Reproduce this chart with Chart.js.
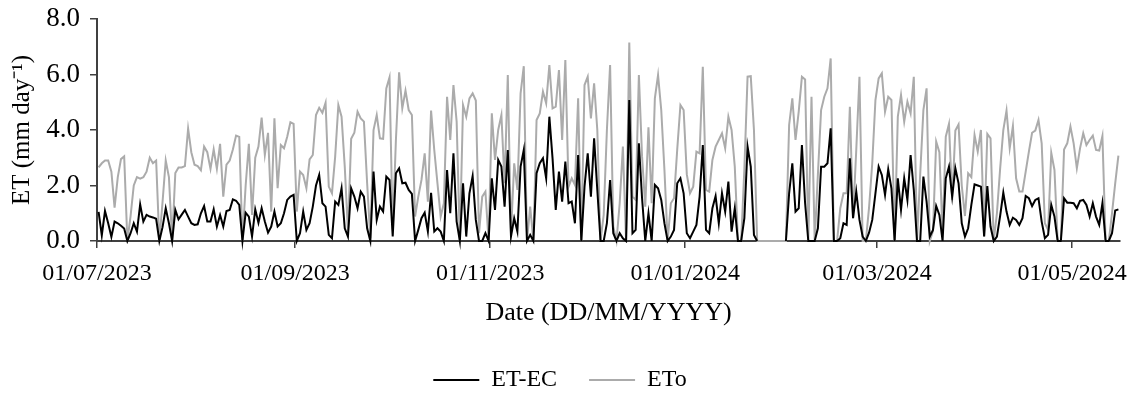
<!DOCTYPE html>
<html>
<head>
<meta charset="utf-8">
<script src="https://cdn.jsdelivr.net/npm/chart.js@4.4.1/dist/chart.umd.min.js"></script>
<style>
  html, body { margin: 0; padding: 0; background: #fff; }
  canvas { display: block; }
</style>
</head>
<body>
<canvas id="etChart" width="1141" height="397"></canvas>
<script>
// daily series, 01/07/2023 .. 15/05/2024 (320 days)
const etEc = [
  1.05, 0.2, 1.08, 0.64, 0.15, 0.7, 0.64, 0.55, 0.45, 0,
  0.28, 0.64, 0.34, 1.32, 0.7, 0.94, 0.88, 0.85, 0.8, 0,
  0.5, 1.18, 0.64, 0, 1.12, 0.78, 0.95, 1.12, 0.88, 0.64,
  0.58, 0.6, 1.0, 1.26, 0.7, 0.7, 1.14, 0.52, 0.94, 0.52,
  1.08, 1.12, 1.5, 1.45, 1.3, 0, 1.02, 0.88, 0.16, 1.14,
  0.66, 1.18, 0.7, 0.3, 0.52, 1.06, 0.52, 0.64, 1.0, 1.48,
  1.6, 1.66, 0, 0.28, 1.06, 0.4, 0.64, 1.24, 2.0, 2.38,
  1.36, 1.24, 0.22, 0.1, 1.42, 1.3, 1.9, 0.46, 0.16, 1.9,
  1.6, 1.18, 1.78, 1.6, 0.46, 0, 2.5, 0.76, 1.24, 1.06,
  2.32, 2.2, 0.16, 2.44, 2.62, 2.08, 2.1, 1.84, 1.7, 0,
  0.4, 0.82, 1.02, 0.34, 1.74, 0.34, 0.46, 0.34, 0, 2.56,
  1.0, 3.16, 0.7, 0, 2.08, 0.16, 1.72, 2.34, 0.76, 0,
  0, 0.28, 0, 2.26, 1.12, 2.92, 2.68, 1.24, 3.28, 0.16,
  0.82, 0.34, 2.68, 3.28, 0, 0.22, 0, 2.44, 2.8, 2.98,
  2.26, 4.48, 2.98, 1.12, 2.5, 1.42, 2.86, 1.36, 1.42, 0.64,
  3.1, 0, 1.96, 3.16, 1.6, 3.7, 1.84, 0, 0, 0.64,
  2.2, 0.28, 0, 0.28, 0.1, 0, 5.08, 0.28, 0.4, 3.52,
  1.54, 0, 1.0, 0, 2.02, 1.9, 1.48, 0.64, 0, 0.16,
  0.4, 2.08, 2.26, 1.72, 0.28, 0.1, 0.34, 0.58, 1.6, 3.46,
  0.4, 0.28, 1.18, 1.62, 0.64, 1.72, 1.06, 2.14, 0.34, 1.18,
  0, 0, 0.82, 3.4, 2.68, 0.22, 0, null, null, null,
  null, null, null, null, null, 0, 1.72, 2.8, 1.06, 1.18,
  3.46, 1.36, 0, 0, 0, 0.46, 2.68, 2.68, 2.8, 4.06,
  0, 0, 0.1, 0.64, 0.58, 2.98, 0.82, 1.78, 0.76, 0.16,
  0, 0.3, 0.76, 1.72, 2.68, 2.38, 1.66, 2.58, 1.9, 0,
  2.26, 1.12, 2.26, 1.48, 3.1, 1.84, 0, 0, 2.32, 1.42,
  0.16, 0.4, 1.26, 0.94, 0, 2.26, 2.68, 1.6, 2.62, 2.08,
  0.64, 0.16, 0.46, 1.3, 2.04, 2.0, 1.96, 0.16, 1.98, 0.52,
  0, 0.16, 0.9, 1.74, 1.06, 0.58, 0.84, 0.76, 0.58, 0.82,
  1.62, 1.54, 1.26, 1.48, 1.54, 0.7, 0.1, 0.22, 1.3, 0.88,
  0, 0, 1.54, 1.38, 1.38, 1.36, 1.18, 1.45, 1.48, 1.3,
  0.88, 1.36, 0.88, 0.58, 1.36, 0, 0, 0.28, 1.1, 1.14
];

const eto = [
  2.65, 2.8, 2.9, 2.9, 2.5, 1.2, 2.3, 2.95, 3.05, 0,
  0.9, 2.0, 2.3, 2.25, 2.3, 2.5, 3.0, 2.8, 2.9, 0,
  1.4, 2.9, 2.3, 0, 2.45, 2.65, 2.65, 2.7, 4.05, 3.2,
  2.75, 2.7, 2.55, 3.4, 3.2, 2.6, 3.3, 2.6, 3.5, 1.6,
  2.75, 2.9, 3.3, 3.8, 3.75, 0, 2.0, 3.5, 0.94, 3.0,
  3.4, 4.45, 3.1, 3.9, 1.06, 4.42, 1.9, 3.46, 3.34, 3.76,
  4.28, 4.22, 1.06, 2.5, 2.38, 1.9, 2.94, 3.1, 4.54, 4.8,
  4.62, 4.98, 1.96, 1.72, 3.04, 4.9, 4.48, 2.68, 0.34, 3.68,
  3.9, 4.66, 4.42, 4.3, 2.08, 0.1, 4.0, 4.54, 3.7, 3.68,
  5.5, 5.9, 0.4, 3.64, 6.08, 4.78, 5.42, 4.72, 4.54, 0.88,
  1.6, 2.2, 3.16, 1.42, 4.7, 3.28, 2.08, 0.88, 1.36, 5.2,
  3.64, 5.62, 4.3, 0, 4.9, 4.48, 5.14, 5.32, 5.06, 0.28,
  1.6, 1.78, 0, 4.6, 2.92, 4.0, 4.54, 2.08, 5.98, 0.28,
  2.8, 1.84, 5.32, 6.3, 0, 1.24, 0, 4.36, 4.6, 5.38,
  4.96, 6.34, 4.78, 4.84, 6.16, 3.64, 6.52, 1.96, 2.26, 2.02,
  5.14, 0, 5.62, 5.92, 4.42, 5.68, 4.0, 0, 0.94, 4.0,
  6.34, 0.52, 0, 1.36, 3.4, 0, 7.15, 1.6, 1.48, 5.98,
  3.04, 1.24, 4.1, 1.36, 5.14, 5.98, 4.72, 2.56, 0, 1.36,
  1.54, 3.3, 4.9, 4.72, 2.4, 1.72, 1.96, 3.22, 3.16, 6.28,
  1.84, 1.78, 2.92, 3.4, 3.64, 3.88, 3.34, 4.48, 4.0, 2.68,
  0, 0, 2.6, 5.92, 5.94, 4.0, 0, 0, 0, 0,
  0, 0, 0, 0, 0, 0, 4.18, 5.14, 3.64, 4.66,
  5.92, 5.82, 0, 5.2, 0, 2.4, 4.72, 5.2, 5.5, 6.58,
  0, 0, 1.18, 1.72, 1.72, 4.84, 0.82, 3.28, 5.92, 0,
  0, 1.2, 2.8, 5.08, 5.86, 6.04, 4.66, 5.2, 5.08, 0,
  4.48, 5.26, 4.3, 5.02, 4.6, 5.92, 0, 2.4, 4.72, 5.5,
  0, 0.36, 3.58, 3.2, 0.25, 3.76, 4.22, 1.48, 3.98, 4.2,
  2.0, 0.9, 2.44, 2.3, 3.82, 3.22, 4.0, 0.16, 3.86, 3.7,
  0, 1.0, 2.6, 4.0, 4.7, 3.34, 4.14, 2.26, 1.78, 1.78,
  2.5, 3.22, 3.9, 3.98, 4.36, 3.52, 0.64, 0.4, 3.18, 2.56,
  0, 0, 3.3, 3.52, 4.12, 3.52, 2.62, 3.34, 3.88, 3.46,
  3.64, 3.8, 3.28, 3.26, 3.78, 0, 0, 1.0, 2.08, 3.08
];

// date axis: day offsets of the labelled ticks (from 01/07/2023)
const tickDays = [0, 62, 123, 184, 244, 305];
const tickLabels = ['01/07/2023', '01/09/2023', '01/11/2023', '01/01/2024', '01/03/2024', '01/05/2024'];
const totalDays = 320;

const FONT = "'Liberation Serif', 'Times New Roman', serif";
const AXIS = '#404040';

// each day sits in the middle of its slot, like Excel's date axis
const toPoints = arr => arr.map((v, i) => ({ x: i + 0.5, y: v }));

new Chart(document.getElementById('etChart'), {
  type: 'line',
  data: {
    datasets: [
      {
        label: 'ET-EC',
        data: toPoints(etEc),
        borderColor: '#000000',
        borderWidth: 2,
        pointRadius: 0,
        pointStyle: 'line',
        tension: 0,
        spanGaps: false,
        clip: false
      },
      {
        label: 'ETo',
        data: toPoints(eto),
        borderColor: '#ABABAB',
        borderWidth: 2,
        pointRadius: 0,
        pointStyle: 'line',
        tension: 0,
        clip: false
      }
    ]
  },
  options: {
    responsive: false,
    animation: false,
    layout: { padding: { left: 0, right: 21, top: 19, bottom: 0 } },
    scales: {
      x: {
        type: 'linear',
        min: 0,
        max: totalDays,
        afterBuildTicks: scale => { scale.ticks = tickDays.map(v => ({ value: v })); },
        afterFit: scale => { scale.height = 95; },
        ticks: {
          autoSkip: false,
          maxRotation: 0,
          padding: 11,
          color: '#000',
          font: { family: FONT, size: 24 },
          callback: v => tickLabels[tickDays.indexOf(v)]
        },
        grid: { drawOnChartArea: false, tickLength: 7, color: AXIS, lineWidth: 1.5, z: -1 },
        border: { color: AXIS, width: 2 },
        title: {
          display: true,
          text: 'Date (DD/MM/YYYY)',
          color: '#000',
          font: { family: FONT, size: 26 },
          padding: { top: 0, bottom: 7 }
        }
      },
      y: {
        min: 0,
        max: 8,
        // fixed width, and no extra top/bottom room for the end labels
        afterFit: scale => { scale.width = 97; scale.paddingTop = 0; scale.paddingBottom = 0; },
        ticks: {
          stepSize: 2,
          padding: 10,
          color: '#000',
          font: { family: FONT, size: 27 },
          callback: v => v.toFixed(1)
        },
        grid: { drawOnChartArea: false, tickLength: 7, color: AXIS, lineWidth: 1.5, z: -1 },
        border: { color: AXIS, width: 2 },
        title: {
          display: true,
          text: 'ET (mm day\u207B\u00B9)',
          color: '#000',
          font: { family: FONT, size: 25 },
          padding: { top: 7, bottom: 0 }
        }
      }
    },
    plugins: {
      legend: {
        position: 'bottom',
        maxHeight: 61,
        labels: {
          usePointStyle: true,
          pointStyleWidth: 46,
          padding: 32,
          color: '#000',
          font: { family: FONT, size: 24 }
        }
      },
      tooltip: { enabled: false }
    }
  }
});
</script>
</body>
</html>
